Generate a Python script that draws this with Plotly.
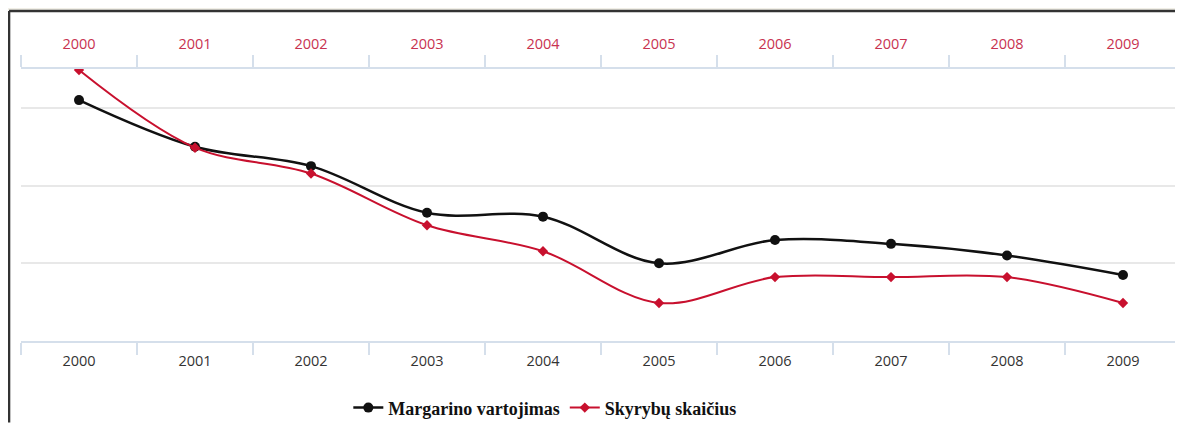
import plotly.graph_objects as go

# metai ir duomenys
metai = ["2000", "2001", "2002", "2003", "2004", "2005", "2006", "2007", "2008", "2009"]
margarinas = [8.2, 7.0, 6.5, 5.3, 5.2, 4.0, 4.6, 4.5, 4.2, 3.7]
skyrybos = [5.0, 4.7, 4.6, 4.4, 4.3, 4.1, 4.2, 4.2, 4.2, 4.1]

juoda = "#111111"
raudona = "#c8102e"
asies_spalva = "#d5dfeb"

fig = go.Figure()

fig.add_trace(go.Scatter(
    x=metai, y=margarinas, name="Margarino vartojimas",
    mode="lines+markers", line=dict(color=juoda, width=2.5, shape="spline"),
    marker=dict(symbol="circle", size=10, color=juoda),
    xaxis="x", yaxis="y"))

fig.add_trace(go.Scatter(
    x=metai, y=skyrybos, name="Skyrybų skaičius",
    mode="lines+markers", line=dict(color=raudona, width=2, shape="spline"),
    marker=dict(symbol="diamond", size=8, color=raudona),
    xaxis="x2", yaxis="y2"))

# remelis aplink paveiksla (puslapis turi 8px parastę)
fig.add_shape(type="rect", xref="paper", yref="paper",
              x0=-0.03, x1=1.0017, y0=1.215, y1=1.26,
              fillcolor="#f1efe7", line=dict(width=0), layer="below")
fig.add_shape(type="line", xref="paper", yref="paper",
              x0=-0.0103, x1=1.0017, y0=1.213, y1=1.213,
              line=dict(color="#333333", width=2.5))
fig.add_shape(type="line", xref="paper", yref="paper",
              x0=-0.0103, x1=-0.0103, y0=1.213, y1=-0.3,
              line=dict(color="#333333", width=2.5))

fig.update_layout(
    width=1175, height=415,
    margin=dict(l=13, r=2, t=61, b=82, autoexpand=False),
    paper_bgcolor="white", plot_bgcolor="white",
    font=dict(family="Open Sans", size=14, color="#333333"),
    showlegend=True,
    legend=dict(orientation="h", x=0.452, y=-0.246,
                xanchor="center", yanchor="middle",
                font=dict(family="Liberation Serif", size=18, color="#111111",
                          weight="bold"),
                itemwidth=30, tracegroupgap=0),
    xaxis=dict(type="category", range=[-0.5, 9.5], automargin=False,
               showline=True, linecolor=asies_spalva, linewidth=2,
               ticks="outside", tickson="boundaries", ticklen=12,
               tickcolor=asies_spalva, tickwidth=2,
               showgrid=False, tickfont=dict(color="#333333", size=14.5),
               ticklabelstandoff=6),
    xaxis2=dict(type="category", range=[-0.5, 9.5], overlaying="x", side="top",
                automargin=False,
                showline=True, linecolor=asies_spalva, linewidth=2,
                ticks="outside", tickson="boundaries", ticklen=12,
                tickcolor=asies_spalva, tickwidth=2,
                showgrid=False, tickfont=dict(color="#c83250", size=14.5),
                ticklabelstandoff=12),
    yaxis=dict(range=[2, 9], tickvals=[4, 6, 8], showticklabels=False,
               showgrid=True, gridcolor="#e8e8e8", gridwidth=2,
               zeroline=False, showline=False, automargin=False),
    yaxis2=dict(range=[3.953, 5.004], overlaying="y", showgrid=False,
                showticklabels=False, zeroline=False, showline=False,
                automargin=False),
)

fig.write_html("out.html")
